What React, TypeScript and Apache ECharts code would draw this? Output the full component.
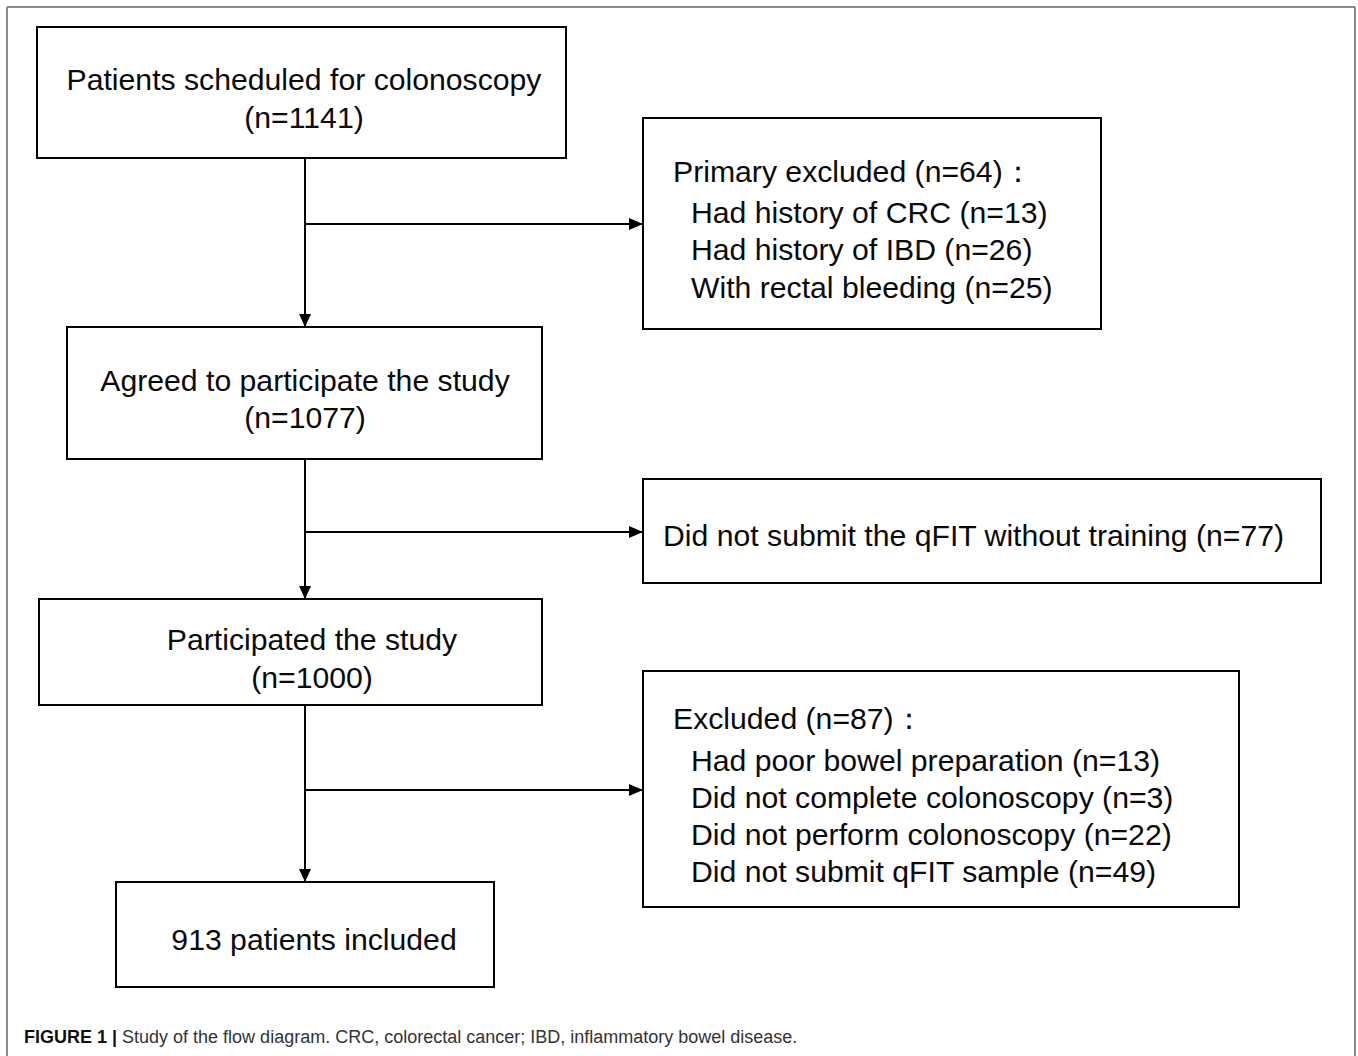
import React, { useEffect, useRef } from "react";
import * as echarts from "echarts";

// ---- Data ----
const stepLabels = [
  "Patients scheduled for colonoscopy",
  "Agreed to participate the study",
  "Participated the study",
  "patients included",
];
const stepCounts = [1141, 1077, 1000, 913];

const exclusionTitles = ["Primary excluded", "Did not submit the qFIT without training", "Excluded"];
const exclusionCounts = [64, 77, 87];

const exclusion1Reasons = ["Had history of CRC", "Had history of IBD", "With rectal bleeding"];
const exclusion1Counts = [13, 26, 25];

const exclusion3Reasons = [
  "Had poor bowel preparation",
  "Did not complete colonoscopy",
  "Did not perform colonoscopy",
  "Did not submit qFIT sample",
];
const exclusion3Counts = [13, 3, 22, 49];

const captionBold = "FIGURE 1 |";
const captionText = " Study of the flow diagram. CRC, colorectal cancer; IBD, inflammatory bowel disease.";

// ---- Layout (pixels) ----
const spineX = 305;
const stepBoxes = [
  { x: 37, y: 27, w: 529, h: 131, tx: 304, ty: [79, 117] },
  { x: 67, y: 327, w: 475, h: 132, tx: 305, ty: [380, 417] },
  { x: 39, y: 599, w: 503, h: 106, tx: 312, ty: [639, 677] },
  { x: 116, y: 882, w: 378, h: 105, tx: 314, ty: [939] },
];
const exclBoxes = [
  { x: 643, y: 118, w: 458, h: 211, branchY: 224 },
  { x: 643, y: 479, w: 678, h: 104, branchY: 532 },
  { x: 643, y: 671, w: 596, h: 236, branchY: 790 },
];

const FONT = "'Liberation Sans', Arial, Helvetica, sans-serif";
const FS = 30.2;

function arrowDown(x: number, tipY: number) {
  return {
    type: "polygon",
    shape: { points: [[x - 6, tipY - 13], [x + 6, tipY - 13], [x, tipY]] },
    style: { fill: "#000" },
  };
}
function arrowRight(tipX: number, y: number) {
  return {
    type: "polygon",
    shape: { points: [[tipX - 14, y - 6], [tipX - 14, y + 6], [tipX, y]] },
    style: { fill: "#000" },
  };
}
function txt(text: string, x: number, y: number, align: string = "center", size: number = FS) {
  return {
    type: "text",
    x,
    y,
    style: {
      text,
      fontSize: size,
      fontFamily: FONT,
      fill: "#0a0a0a",
      align,
      verticalAlign: "middle",
      textAlign: align,
      textVerticalAlign: "middle",
    },
  };
}

export default function App() {
  const ref = useRef<HTMLDivElement>(null);
  useEffect(() => {
    if (!ref.current) return;
    const chart = echarts.init(ref.current, undefined, { renderer: "svg" });
    const g: any[] = [];

    // outer frame
    const frame = { stroke: "#8a8a8a", lineWidth: 2 };
    g.push({ type: "line", shape: { x1: 7, y1: 7, x2: 1355, y2: 7 }, style: frame });
    g.push({ type: "line", shape: { x1: 7, y1: 7, x2: 7, y2: 1056 }, style: frame });
    g.push({ type: "line", shape: { x1: 1355, y1: 7, x2: 1355, y2: 1056 }, style: frame });

    const boxStyle = { fill: "#fff", stroke: "#000", lineWidth: 2 };
    const lineStyle = { stroke: "#000", lineWidth: 2 };

    // spine lines and arrows between step boxes
    for (let i = 0; i < stepBoxes.length - 1; i++) {
      const a = stepBoxes[i];
      const b = stepBoxes[i + 1];
      g.push({ type: "line", shape: { x1: spineX, y1: a.y + a.h, x2: spineX, y2: b.y }, style: lineStyle });
      g.push(arrowDown(spineX, b.y));
      const e = exclBoxes[i];
      g.push({ type: "line", shape: { x1: spineX, y1: e.branchY, x2: e.x, y2: e.branchY }, style: lineStyle });
      g.push(arrowRight(e.x, e.branchY));
    }

    // step boxes
    stepBoxes.forEach((b, i) => {
      g.push({ type: "rect", shape: { x: b.x, y: b.y, width: b.w, height: b.h }, style: boxStyle });
      if (i < stepBoxes.length - 1) {
        g.push(txt(stepLabels[i], b.tx, b.ty[0]));
        g.push(txt(`(n=${stepCounts[i]})`, b.tx, b.ty[1]));
      } else {
        g.push(txt(`${stepCounts[i]} ${stepLabels[i]}`, b.tx, b.ty[0]));
      }
    });

    // exclusion boxes
    exclBoxes.forEach((b) => {
      g.push({ type: "rect", shape: { x: b.x, y: b.y, width: b.w, height: b.h }, style: boxStyle });
    });
    // exclusion 1
    g.push(txt(`${exclusionTitles[0]} (n=${exclusionCounts[0]})：`, 673, 171, "left"));
    const ex1Y = [212, 249, 287];
    exclusion1Reasons.forEach((r, i) => g.push(txt(`${r} (n=${exclusion1Counts[i]})`, 691, ex1Y[i], "left")));
    // exclusion 2
    g.push(txt(`${exclusionTitles[1]} (n=${exclusionCounts[1]})`, 663, 535, "left"));
    // exclusion 3
    g.push(txt(`${exclusionTitles[2]} (n=${exclusionCounts[2]})：`, 673, 718, "left"));
    const ex3Y = [760, 797, 834, 871];
    exclusion3Reasons.forEach((r, i) => g.push(txt(`${r} (n=${exclusion3Counts[i]})`, 691, ex3Y[i], "left")));

    // caption
    g.push({
      type: "text",
      x: 24,
      y: 1037,
      style: {
        text: `{b|${captionBold}}{r|${captionText}}`,
        fontFamily: FONT,
        fontSize: 18,
        fill: "#222",
        align: "left",
        verticalAlign: "middle",
        rich: {
          b: { fontWeight: "bold", fontSize: 18, fontFamily: FONT, fill: "#111" },
          r: { fontSize: 18, fontFamily: FONT, fill: "#333" },
        },
      },
    });

    chart.setOption({
      animation: false,
      backgroundColor: "#fff",
      graphic: { elements: g },
    });
    return () => chart.dispose();
  }, []);
  return (
    <div
      ref={ref}
      style={{ position: "absolute", left: 0, top: 0, width: 1358, height: 1056, background: "#fff" }}
    />
  );
}
